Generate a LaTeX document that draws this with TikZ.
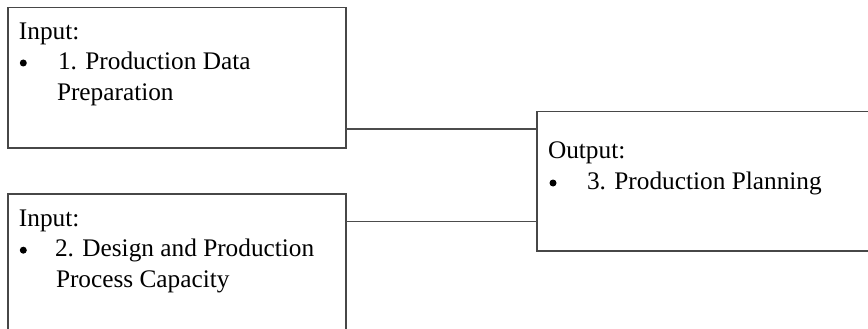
\documentclass[tikz,border=0pt]{standalone}
\usepackage{fontspec}
\setmainfont{Liberation Serif}
\begin{document}
\begin{tikzpicture}[x=1pt,y=-1pt,
  box/.style={draw=black!72, line width=1.3pt, inner sep=0pt, outer sep=0pt, anchor=north west},
  link/.style={draw=black!70, line width=1.3pt},
  dot/.style={circle, fill=black, inner sep=0pt, outer sep=0pt, minimum size=7pt},
  txt/.style={anchor=base west, inner sep=0pt, outer sep=0pt, font=\fontsize{25.3}{30}\selectfont, text=black}]
\useasboundingbox (0,0) rectangle (868,329);
\clip (0,0) rectangle (868,329);
% boxes
\node[box, minimum width=338pt, minimum height=140.5pt] (b1) at (8,7.5) {};
\node[box, minimum width=338pt, minimum height=170pt] (b2) at (8,194) {};
\node[box, minimum width=360pt, minimum height=139.5pt] (b3) at (537,111.5) {};
% connector levels
\coordinate (h1) at (0,129);
\coordinate (h2) at (0,221.5);
\draw[link] (b1.east |- h1) -- (b3.west |- h1);
\draw[link] (b2.east |- h2) -- (b3.west |- h2);
% box 1 text
\node[txt] (t1a) at (19,39.3) {Input:};
\node[dot] (t1b) at (23.3,63) {};
\node[txt] (t1c) at (58,69.3) {1. Production Data};
\node[txt] (t1d) at (57,100) {Preparation};
% box 2 text
\node[txt] (t2a) at (19,226) {Input:};
\node[dot] (t2b) at (23.3,250.2) {};
\node[txt] (t2c) at (55,256.5) {2. Design and Production};
\node[txt] (t2d) at (56,287) {Process Capacity};
% box 3 text
\node[txt] (t3a) at (548,158.3) {Output:};
\node[dot] (t3b) at (553,183) {};
\node[txt] (t3c) at (587,189.3) {3. Production Planning};
\end{tikzpicture}
\end{document}
